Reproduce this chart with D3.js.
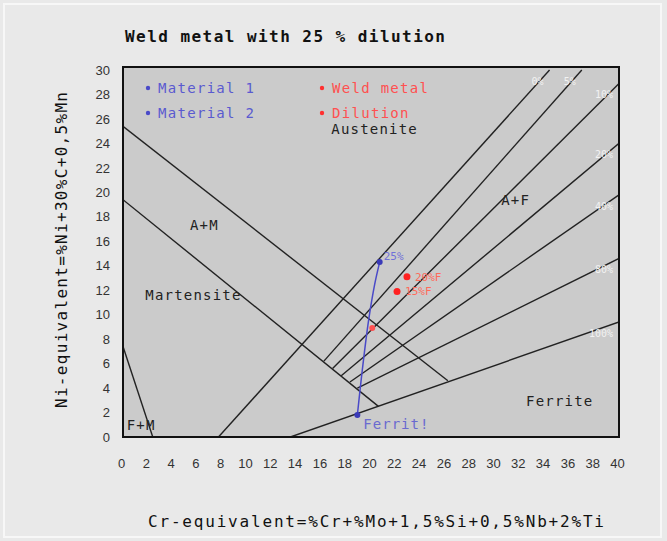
<!DOCTYPE html>
<html>
<head>
<meta charset="utf-8">
<script src="https://cdn.jsdelivr.net/npm/d3@7"></script>
<style>
  body { margin: 0; background: #e9e9e9; }
  svg { display: block; }
</style>
</head>
<body>
<div id="chart"></div>
<script>
// Schaeffler diagram values (Cr-eq, Ni-eq)
const xTicks = d3.range(0, 41, 2);
const yTicks = d3.range(0, 31, 2);

// phase boundaries [x1, y1, x2, y2]
const boundaryLines = [
    [0, 25.4, 26.2, 4.6],   // A / A+M
    [0, 19.4, 20.6, 2.5],   // M / A+M
    [0, 7.4, 2.4, 0],       // F+M
];
// ferrite percentage lines [x1, y1, x2, y2, label]
const ferriteLines = [
    [7.7, 0, 34.4, 30, "0%"],
    [16.2, 6.2, 37.0, 30, "5%"],
    [16.9, 5.6, 40, 28.9, "10%"],
    [17.6, 5.0, 40, 24.0, "20%"],
    [18.3, 4.5, 40, 19.8, "40%"],
    [18.9, 4.0, 40, 14.6, "80%"],
    [13.5, 0, 40, 9.4, "100%"]
];
const regionNames = ["Austenite", "A+F", "A+M", "Martensite", "Ferrite", "F+M"];
const regionPos = [[16.8, 24.8], [30.5, 19.0], [5.4, 16.9], [1.8, 11.2], [32.5, 2.5], [0.3, 0.6]];

// dilution path from Material 2 to Material 1
const dilutionPath = [[18.9, 1.8], [19.3, 5.5], [19.8, 9.5], [20.3, 12.5], [20.7, 14.3]];
const material1 = [20.7, 14.3];
const material2 = [18.9, 1.8];
const dilutionPoint = [20.1, 8.9];
const weldPoints = [[22.9, 13.1], [22.1, 11.9]];
const weldLabels = ["20%F", "15%F"];

const legendItems = [
    { name: "Material 1", color: "#4a4ac8" },
    { name: "Material 2", color: "#4a4ac8" },
    { name: "Weld metal", color: "#ff3030" },
    { name: "Dilution", color: "#ff3030" }
];

const width = 667, height = 541;
const margin = { left: 123, right: 48, top: 68, bottom: 104 };

const svg = d3.select("#chart").append("svg")
    .attr("width", width)
    .attr("height", height);

svg.append("rect")
    .attr("x", 0).attr("y", 0)
    .attr("width", width).attr("height", height)
    .attr("fill", "#e9e9e9");
// faint outer frame of the screenshot
svg.append("rect")
    .attr("x", 4).attr("y", 4)
    .attr("width", width - 10).attr("height", height - 8)
    .attr("fill", "none")
    .attr("stroke", "#f7f7f7")
    .attr("stroke-width", 2);

const xScale = d3.scaleLinear().domain([0, 40]).range([margin.left, width - margin.right]);
const yScale = d3.scaleLinear().domain([0, 30]).range([height - margin.bottom, 70]);

// plot background
svg.append("rect")
    .attr("x", xScale(0)).attr("y", 67)
    .attr("width", xScale(40) - xScale(0))
    .attr("height", yScale(0) - 67)
    .attr("fill", "#cbcbcb");

svg.append("clipPath").attr("id", "plot-clip")
    .append("rect")
    .attr("x", xScale(0)).attr("y", 67)
    .attr("width", xScale(40) - xScale(0))
    .attr("height", yScale(0) - 67);

const plot = svg.append("g").attr("clip-path", "url(#plot-clip)");

plot.selectAll(".boundary")
    .data(boundaryLines.concat(ferriteLines))
    .enter()
    .append("line")
        .attr("x1", d => xScale(d[0]))
        .attr("y1", d => yScale(d[1]))
        .attr("x2", d => xScale(d[2]))
        .attr("y2", d => yScale(d[3]))
        .attr("stroke", "#222")
        .attr("stroke-width", 1.4);

// percentage labels near the right/top end
plot.selectAll(".pct")
    .data(ferriteLines)
    .enter()
    .append("text")
        .attr("x", d => xScale(d[2]) - 6)
        .attr("y", d => yScale(d[3]) + 15)
        .attr("text-anchor", "end")
        .attr("font-family", "DejaVu Sans Mono")
        .attr("font-size", "10px")
        .attr("fill", "#f2f2f2")
        .text(d => d[4]);

// region labels
plot.selectAll(".region")
    .data(regionNames)
    .enter()
    .append("text")
        .attr("x", (d, i) => xScale(regionPos[i][0]))
        .attr("y", (d, i) => yScale(regionPos[i][1]))
        .attr("font-family", "DejaVu Sans Mono")
        .attr("font-size", "14px")
        .attr("letter-spacing", "1.2px")
        .attr("fill", "#222")
        .text(d => d);

// dilution curve
plot.append("path")
    .datum(dilutionPath)
    .attr("d", d3.line().x(d => xScale(d[0])).y(d => yScale(d[1])).curve(d3.curveCatmullRom))
    .attr("fill", "none")
    .attr("stroke", "#4a4ac8")
    .attr("stroke-width", 1.5);

plot.selectAll(".mat")
    .data([material1, material2])
    .enter()
    .append("circle")
        .attr("cx", d => xScale(d[0]))
        .attr("cy", d => yScale(d[1]))
        .attr("r", 3)
        .attr("fill", "#3a3ab8");

plot.append("circle")
    .attr("cx", xScale(dilutionPoint[0]))
    .attr("cy", yScale(dilutionPoint[1]))
    .attr("r", 3)
    .attr("fill", "#ff5050");

plot.selectAll(".weld")
    .data(weldPoints)
    .enter()
    .append("circle")
        .attr("cx", d => xScale(d[0]))
        .attr("cy", d => yScale(d[1]))
        .attr("r", 3.5)
        .attr("fill", "#ff2020");

plot.selectAll(".weld-label")
    .data(weldPoints)
    .enter()
    .append("text")
        .attr("x", d => xScale(d[0]) + 8)
        .attr("y", d => yScale(d[1]) + 4)
        .attr("font-family", "DejaVu Sans Mono")
        .attr("font-size", "11px")
        .attr("fill", "#ff6a5a")
        .text((d, i) => weldLabels[i]);

plot.append("text")
    .attr("x", xScale(material1[0]) + 4)
    .attr("y", yScale(material1[1]) - 2)
    .attr("font-family", "DejaVu Sans Mono")
    .attr("font-size", "11px")
    .attr("fill", "#7070d8")
    .text("25%");

plot.append("text")
    .attr("x", xScale(material2[0]) + 6)
    .attr("y", yScale(material2[1]) + 14)
    .attr("font-family", "DejaVu Sans Mono")
    .attr("font-size", "14px")
    .attr("letter-spacing", "1px")
    .attr("fill", "#6a6ad0")
    .text("Ferrit!");

// legend
const legend = svg.append("g");
legendItems.forEach((item, i) => {
    const lx = i < 2 ? 148 : 322;
    const ly = 93 + (i % 2) * 25;
    legend.append("circle")
        .attr("cx", lx).attr("cy", ly - 5).attr("r", 2.2)
        .attr("fill", item.color);
    legend.append("text")
        .attr("x", lx + 10).attr("y", ly)
        .attr("font-family", "DejaVu Sans Mono")
        .attr("font-size", "14px")
        .attr("letter-spacing", "1.3px")
        .attr("fill", item.color === "#ff3030" ? "#ff5050" : "#5a5ad0")
        .text(item.name);
});

// frame
svg.append("rect")
    .attr("x", xScale(0)).attr("y", 67)
    .attr("width", xScale(40) - xScale(0))
    .attr("height", yScale(0) - 67)
    .attr("fill", "none")
    .attr("stroke", "#111")
    .attr("stroke-width", 2);

// axes (labels only)
const xAxis = svg.append("g")
    .attr("transform", `translate(-2, ${yScale(0) + 19})`)
    .call(d3.axisBottom(xScale).tickValues(xTicks).tickSize(0));
xAxis.select(".domain").remove();
xAxis.selectAll("text")
    .attr("font-family", "Liberation Sans")
    .attr("font-size", "13px")
    .attr("fill", "#333");

const yAxis = svg.append("g")
    .attr("transform", `translate(${xScale(0) - 10}, 0)`)
    .call(d3.axisLeft(yScale).tickValues(yTicks).tickSize(0));
yAxis.select(".domain").remove();
yAxis.selectAll("text")
    .attr("font-family", "Liberation Sans")
    .attr("font-size", "13px")
    .attr("fill", "#333");

// title
svg.append("text")
    .attr("x", 125).attr("y", 42)
    .attr("font-family", "DejaVu Sans Mono")
    .attr("font-weight", "bold")
    .attr("font-size", "16px")
    .attr("textLength", 320)
    .attr("lengthAdjust", "spacing")
    .attr("fill", "#111")
    .text("Weld metal with 25 % dilution");

// axis titles
svg.append("text")
    .attr("x", 148).attr("y", 527)
    .attr("font-family", "DejaVu Sans Mono")
    .attr("font-size", "16px")
    .attr("textLength", 456)
    .attr("lengthAdjust", "spacing")
    .attr("fill", "#111")
    .text("Cr-equivalent=%Cr+%Mo+1,5%Si+0,5%Nb+2%Ti");

svg.append("text")
    .attr("transform", "translate(67, 408) rotate(-90)")
    .attr("font-family", "DejaVu Sans Mono")
    .attr("font-size", "16px")
    .attr("textLength", 316)
    .attr("lengthAdjust", "spacing")
    .attr("fill", "#111")
    .text("Ni-equivalent=%Ni+30%C+0,5%Mn");
</script>
</body>
</html>
